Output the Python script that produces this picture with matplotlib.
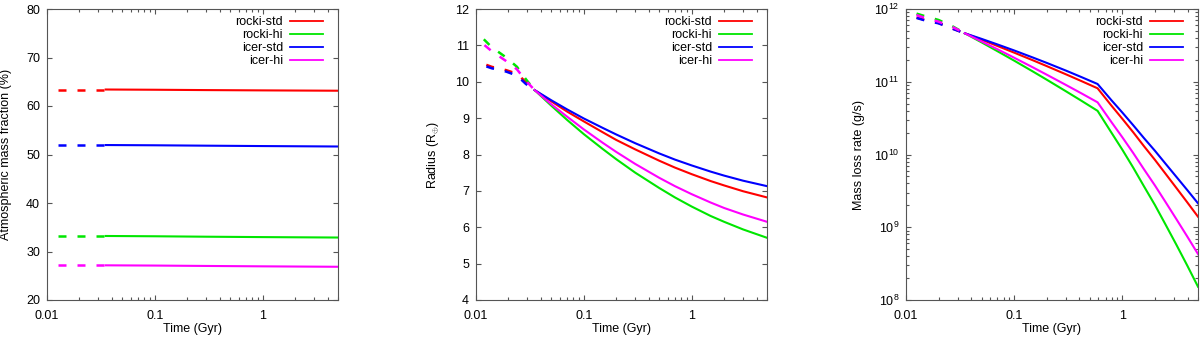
import matplotlib
matplotlib.use("Agg")
import matplotlib.pyplot as plt
from matplotlib.ticker import LogLocator, NullFormatter, FixedLocator, FixedFormatter

plt.rcParams['font.family'] = ['Liberation Sans', 'DejaVu Sans']
plt.rcParams['font.size'] = 9
plt.rcParams['mathtext.fontset'] = 'custom'
plt.rcParams['mathtext.rm'] = 'Liberation Sans'
plt.rcParams['mathtext.it'] = 'Liberation Sans:italic'

# ---------------- data ----------------
series_names = ["rocki-std", "rocki-hi", "icer-std", "icer-hi"]
series_colors = ["#ff0000", "#00e600", "#0000ff", "#ff00ff"]

# Panel 1: atmospheric mass fraction (%)
t1_early = [0.01, 0.035]
frac_early = {
    "rocki-std": [63.40, 63.40],
    "rocki-hi": [33.20, 33.20],
    "icer-std": [51.95, 51.95],
    "icer-hi": [27.15, 27.15],
}
t1_late = [0.035, 0.1, 0.3, 1.0, 5.0]
frac_late = {
    "rocki-std": [63.40, 63.35, 63.28, 63.22, 63.15],
    "rocki-hi": [33.20, 33.14, 33.05, 32.97, 32.88],
    "icer-std": [51.95, 51.90, 51.82, 51.74, 51.65],
    "icer-hi": [27.15, 27.10, 27.02, 26.94, 26.85],
}

# Panel 2: radius (R_earth)
t2_early = [0.01, 0.014, 0.019, 0.024, 0.029, 0.035]
rad_early = {
    "rocki-std": [10.57, 10.41, 10.32, 10.22, 9.99, 9.77],
    "rocki-hi": [11.38, 10.95, 10.67, 10.41, 10.07, 9.77],
    "icer-std": [10.52, 10.37, 10.28, 10.17, 9.94, 9.77],
    "icer-hi": [11.20, 10.84, 10.57, 10.34, 10.03, 9.77],
}
t2_late = [0.035, 0.05, 0.07, 0.1, 0.15, 0.2, 0.3, 0.5, 0.7, 1.0, 1.5, 2.0, 3.0, 5.0]
rad_late = {
    "rocki-std": [9.77, 9.46, 9.18, 8.91, 8.61, 8.40, 8.14, 7.83, 7.64, 7.46, 7.27, 7.15, 6.99, 6.82],
    "rocki-hi": [9.77, 9.34, 8.95, 8.56, 8.15, 7.87, 7.50, 7.08, 6.82, 6.57, 6.31, 6.15, 5.94, 5.71],
    "icer-std": [9.77, 9.49, 9.24, 8.99, 8.73, 8.55, 8.31, 8.03, 7.86, 7.70, 7.53, 7.42, 7.28, 7.13],
    "icer-hi": [9.77, 9.38, 9.04, 8.69, 8.32, 8.07, 7.74, 7.36, 7.13, 6.91, 6.68, 6.53, 6.35, 6.15],
}

# Panel 3: mass loss rate (g/s), stored as log10 values
t3_early = [0.01, 0.0145, 0.02, 0.0273, 0.035]
logmdot_early = {
    "rocki-std": [11.925, 11.855, 11.808, 11.728, 11.666],
    "rocki-hi": [11.980, 11.908, 11.849, 11.757, 11.666],
    "icer-std": [11.920, 11.849, 11.803, 11.725, 11.666],
    "icer-hi": [11.965, 11.885, 11.826, 11.748, 11.666],
}
t3_late = [0.035, 0.05, 0.07, 0.1, 0.15, 0.2, 0.3, 0.42, 0.59, 0.79,
           1.0, 1.26, 1.58, 2.0, 2.51, 3.16, 3.98, 5.0]
logmdot_late = {
    "rocki-std": [11.666, 11.578, 11.492, 11.400, 11.293, 11.215, 11.103, 11.008, 10.910,
                  10.674, 10.490, 10.305, 10.116, 9.926, 9.734, 9.539, 9.342, 9.145],
    "rocki-hi": [11.666, 11.541, 11.420, 11.290, 11.138, 11.028, 10.870, 10.737, 10.600,
                 10.303, 10.065, 9.819, 9.565, 9.305, 9.035, 8.758, 8.473, 8.183],
    "icer-std": [11.666, 11.589, 11.513, 11.430, 11.331, 11.259, 11.154, 11.063, 10.969,
                 10.748, 10.576, 10.402, 10.227, 10.051, 9.872, 9.692, 9.511, 9.329],
    "icer-hi": [11.666, 11.554, 11.447, 11.330, 11.195, 11.097, 10.957, 10.839, 10.717,
                10.448, 10.236, 10.020, 9.799, 9.574, 9.345, 9.110, 8.872, 8.632],
}

xtick_vals = [0.01, 0.1, 1]
xtick_labels = ["0.01", "0.1", "1"]
ytick1 = [20, 30, 40, 50, 60, 70, 80]
ytick2 = [4, 5, 6, 7, 8, 9, 10, 11, 12]

# ---------------- figure ----------------
fig = plt.figure(figsize=(12, 3.42), dpi=100)
W, H = 1200.0, 342.0
ax1 = fig.add_axes([47 / W, 42 / H, 291 / W, 291 / H])
ax2 = fig.add_axes([476 / W, 42 / H, 291 / W, 291 / H])
ax3 = fig.add_axes([906 / W, 42 / H, 292 / W, 291 / H])

spine_col = "#555555"
lw = 1.5
dash_style = (3.2, (3.2, 4.4))


def style_axes(ax):
    ax.set_xscale("log")
    ax.set_xlim(0.01, 5)
    for s in ax.spines.values():
        s.set_color(spine_col)
        s.set_linewidth(0.8)
    ax.tick_params(which="both", direction="in", top=True, right=True,
                   color=spine_col, labelcolor="black", width=0.8)
    ax.tick_params(which="major", length=3.4)
    ax.tick_params(which="minor", length=2.0)
    ax.tick_params(axis="x", which="both", pad=7)
    ax.tick_params(axis="y", which="both", pad=5)
    ax.xaxis.set_major_locator(FixedLocator(xtick_vals))
    ax.xaxis.set_major_formatter(FixedFormatter(xtick_labels))
    ax.xaxis.set_minor_locator(LogLocator(base=10, subs=range(2, 10)))
    ax.xaxis.set_minor_formatter(NullFormatter())
    ax.set_xlabel("Time (Gyr)")
    ax.xaxis.set_label_coords(0.5, -0.08)


def add_legend(ax):
    leg = ax.legend(loc="upper right", bbox_to_anchor=(1 - 15 / 291, 1 - 7 / 291),
                    frameon=False, markerfirst=False, borderpad=0, borderaxespad=0,
                    handlelength=2.65, handletextpad=0.55, labelspacing=0.08,
                    fontsize=9)
    for h in leg.get_lines():
        h.set_linewidth(1.3)
    return leg


# Panel 1
style_axes(ax1)
for name, col in zip(series_names, series_colors):
    ax1.plot(t1_early, frac_early[name], color=col, lw=lw + 0.3, linestyle=dash_style)
    ax1.plot(t1_late, frac_late[name], color=col, lw=lw, label=name)
ax1.set_ylim(20, 80)
ax1.set_yticks(ytick1)
ax1.set_ylabel("Atmospheric mass fraction (%)")
ax1.yaxis.set_label_coords(-0.12, 0.5)
add_legend(ax1)

# Panel 2
style_axes(ax2)
for name, col in zip(series_names, series_colors):
    ax2.plot(t2_early, rad_early[name], color=col, lw=lw + 0.3, linestyle=dash_style)
    ax2.plot(t2_late, rad_late[name], color=col, lw=lw, label=name)
ax2.set_ylim(4, 12)
ax2.set_yticks(ytick2)
ax2.set_ylabel(r"Radius (R$_{\oplus}$)")
ax2.yaxis.set_label_coords(-0.12, 0.5)
add_legend(ax2)

# Panel 3
style_axes(ax3)
for name, col in zip(series_names, series_colors):
    ax3.plot(t3_early, [10 ** v for v in logmdot_early[name]], color=col, lw=lw + 0.3,
             linestyle=dash_style)
    ax3.plot(t3_late, [10 ** v for v in logmdot_late[name]], color=col, lw=lw, label=name)
ax3.set_yscale("log")
ax3.set_ylim(1e8, 1e12)
ax3.yaxis.set_major_locator(LogLocator(base=10, numticks=10))
ax3.yaxis.set_minor_locator(LogLocator(base=10, subs=range(2, 10), numticks=50))
ax3.yaxis.set_minor_formatter(NullFormatter())
ax3.set_ylabel("Mass loss rate (g/s)")
ax3.yaxis.set_label_coords(-0.141, 0.5)
add_legend(ax3)

fig.savefig("out.png", dpi=100)
